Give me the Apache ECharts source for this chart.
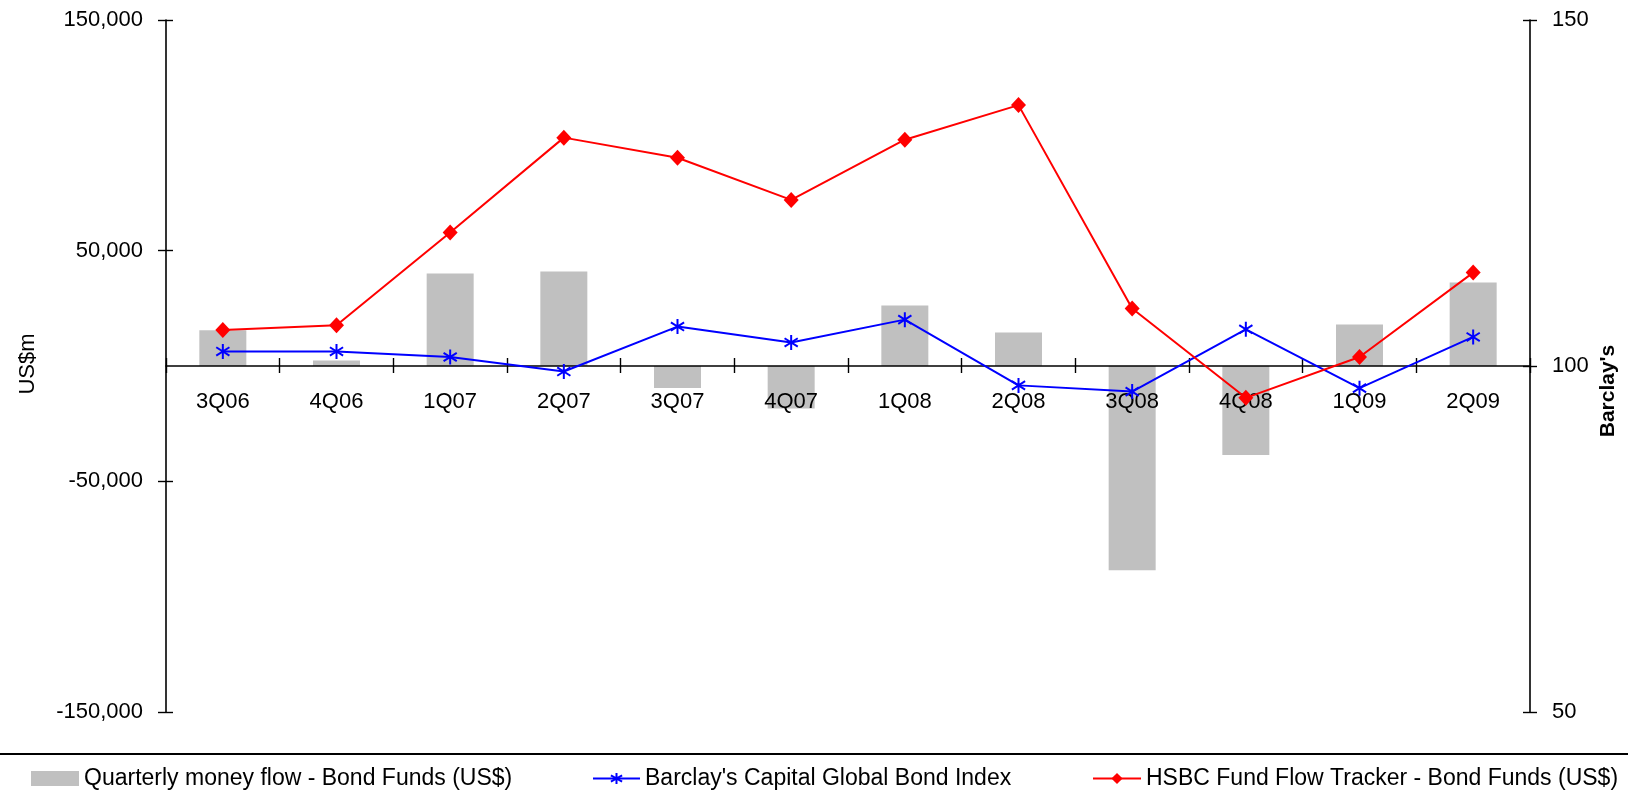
<!DOCTYPE html>
<html>
<head>
<meta charset="utf-8">
<title>Bond fund flows</title>
<script src="https://cdn.jsdelivr.net/npm/echarts@6/dist/echarts.min.js"></script>
<style>
  html, body { margin: 0; padding: 0; background: #ffffff; }
  #chart { width: 1628px; height: 792px; }
</style>
</head>
<body>
<div id="chart"></div>
<script>
// Quarters on the category axis
const quarters = ['3Q06', '4Q06', '1Q07', '2Q07', '3Q07', '4Q07', '1Q08', '2Q08', '3Q08', '4Q08', '1Q09', '2Q09'];

// Quarterly money flow into bond funds, US$m (left axis)
const moneyFlow = [15500, 2400, 40100, 41000, -9500, -18400, 26200, 14500, -88500, -38600, 18000, 36200];

// Barclay's Capital Global Bond Index (right axis)
const barclaysIndex = [102.1, 102.1, 101.3, 99.2, 105.7, 103.4, 106.7, 97.2, 96.3, 105.3, 96.8, 104.2];

// HSBC Fund Flow Tracker - Bond Funds (right axis)
const hsbcTracker = [105.2, 105.9, 119.3, 133.0, 130.1, 124.0, 132.7, 137.7, 108.3, 95.4, 101.3, 113.5];

// Axis ranges and tick steps
const leftAxisRange = { min: -150000, max: 150000, step: 100000 };
const rightAxisRange = { min: 50, max: 150, step: 50 };

const seriesNames = [
  'Quarterly money flow - Bond Funds (US$)',
  "Barclay's Capital Global Bond Index",
  'HSBC Fund Flow Tracker - Bond Funds (US$)'
];

const FONT = "'Liberation Sans', Arial, sans-serif";
const INK = '#000000';

// Plot area geometry
const PLOT = { left: 166, right: 98, top: 20, bottom: 80 };
const PLOT_HEIGHT = 792 - PLOT.top - PLOT.bottom;

const chart = echarts.init(document.getElementById('chart'), null, { renderer: 'canvas' });

// Asterisk marker: vertical stroke plus two diagonals
const asterisk = 'path://M5,0 L5,10 M0.6,2.2 L9.4,7.8 M0.6,7.8 L9.4,2.2';

const legendText = { fontFamily: FONT, fontSize: 23, color: INK };
const tickStyle = { color: INK, width: 1.4 };

chart.setOption({
  animation: false,
  backgroundColor: '#ffffff',
  grid: [
    // main plot
    { left: PLOT.left, right: PLOT.right, top: PLOT.top, bottom: PLOT.bottom, containLabel: false },
    // upper half of the plot; its bottom edge is the zero line and carries the quarter labels
    { left: PLOT.left, right: PLOT.right, top: PLOT.top, height: PLOT_HEIGHT / 2, containLabel: false }
  ],
  legend: [
    {
      data: [{ name: seriesNames[0], icon: 'rect' }], left: 26, top: 762, itemWidth: 48, itemHeight: 15,
      textStyle: legendText, selectedMode: false
    },
    {
      data: [seriesNames[1]], left: 587, top: 762, itemWidth: 47, itemHeight: 14,
      textStyle: legendText, selectedMode: false
    },
    {
      data: [seriesNames[2]], left: 1087, top: 762, itemWidth: 48, itemHeight: 14,
      textStyle: legendText, selectedMode: false
    }
  ],
  xAxis: [
    {
      // zero line with the upward halves of the category ticks
      type: 'category',
      gridIndex: 0,
      data: quarters,
      position: 'top',
      z: 5,
      axisLine: { show: true, onZero: true, onZeroAxisIndex: 0, lineStyle: { color: INK, width: 1.6 } },
      axisTick: { show: true, interval: 0, length: 8, lineStyle: tickStyle },
      axisLabel: { show: false },
      splitLine: { show: false }
    },
    {
      // downward tick halves and quarter labels under the zero line
      type: 'category',
      gridIndex: 1,
      data: quarters,
      position: 'bottom',
      z: 6,
      axisLine: { show: false, onZero: false },
      axisTick: { show: true, interval: 0, length: 7, lineStyle: tickStyle },
      axisLabel: { interval: 0, margin: 25, fontFamily: FONT, fontSize: 22, color: INK },
      splitLine: { show: false }
    }
  ],
  yAxis: [
    {
      type: 'value',
      gridIndex: 0,
      position: 'left',
      min: leftAxisRange.min, max: leftAxisRange.max, interval: leftAxisRange.step,
      axisLine: { show: true, onZero: false, lineStyle: { color: INK, width: 1.6 } },
      axisTick: { show: true, length: 8, lineStyle: tickStyle },
      axisLabel: {
        margin: 23, fontFamily: FONT, fontSize: 22, color: INK,
        formatter: v => v.toLocaleString('en-US')
      },
      splitLine: { show: false }
    },
    {
      type: 'value',
      gridIndex: 0,
      position: 'right',
      min: rightAxisRange.min, max: rightAxisRange.max, interval: rightAxisRange.step,
      axisLine: { show: true, onZero: false, lineStyle: { color: INK, width: 1.6 } },
      axisTick: { show: true, length: 7, lineStyle: tickStyle },
      axisLabel: { margin: 22, fontFamily: FONT, fontSize: 22, color: INK },
      splitLine: { show: false }
    },
    {
      // inner half of the left crossing ticks
      type: 'value',
      gridIndex: 0,
      position: 'left',
      min: leftAxisRange.min, max: leftAxisRange.max, interval: leftAxisRange.step,
      axisLine: { show: false, onZero: false },
      axisTick: { show: true, inside: true, length: 7, lineStyle: tickStyle },
      axisLabel: { show: false },
      splitLine: { show: false }
    },
    {
      // inner half of the right crossing ticks
      type: 'value',
      gridIndex: 0,
      position: 'right',
      min: rightAxisRange.min, max: rightAxisRange.max, interval: rightAxisRange.step,
      axisLine: { show: false, onZero: false },
      axisTick: { show: true, inside: true, length: 7, lineStyle: tickStyle },
      axisLabel: { show: false },
      splitLine: { show: false }
    },
    {
      // placeholder value axis for the label grid
      type: 'value',
      gridIndex: 1,
      show: false,
      min: 0, max: 1
    }
  ],
  series: [
    {
      name: seriesNames[0],
      type: 'bar',
      xAxisIndex: 0,
      yAxisIndex: 0,
      data: moneyFlow,
      barWidth: 47,
      z: 1,
      itemStyle: { color: '#C0C0C0' }
    },
    {
      name: seriesNames[1],
      type: 'line',
      xAxisIndex: 0,
      yAxisIndex: 1,
      data: barclaysIndex,
      z: 8,
      symbol: asterisk,
      symbolSize: 15,
      symbolKeepAspect: true,
      showAllSymbol: true,
      lineStyle: { color: '#0000FF', width: 2 },
      itemStyle: { color: '#0000FF', borderColor: '#0000FF', borderWidth: 2 }
    },
    {
      name: seriesNames[2],
      type: 'line',
      xAxisIndex: 0,
      yAxisIndex: 1,
      data: hsbcTracker,
      z: 9,
      symbol: 'diamond',
      symbolSize: [15, 16],
      showAllSymbol: true,
      lineStyle: { color: '#FF0000', width: 2 },
      itemStyle: { color: '#FF0000', borderColor: '#FF0000', borderWidth: 0 }
    }
  ],
  graphic: [
    {
      // rule above the legend
      type: 'line',
      shape: { x1: 0, y1: 754, x2: 1628, y2: 754 },
      style: { stroke: INK, lineWidth: 2 }
    },
    {
      type: 'text',
      x: 28, y: 364,
      rotation: Math.PI / 2,
      style: { text: 'US$m', fontFamily: FONT, fontSize: 22, fill: INK, align: 'center', verticalAlign: 'middle' }
    },
    {
      type: 'text',
      x: 1608, y: 391,
      rotation: Math.PI / 2,
      style: { text: "Barclay's", fontFamily: FONT, fontSize: 21, fontWeight: 'bold', fill: INK, align: 'center', verticalAlign: 'middle' }
    }
  ]
});
</script>
</body>
</html>
